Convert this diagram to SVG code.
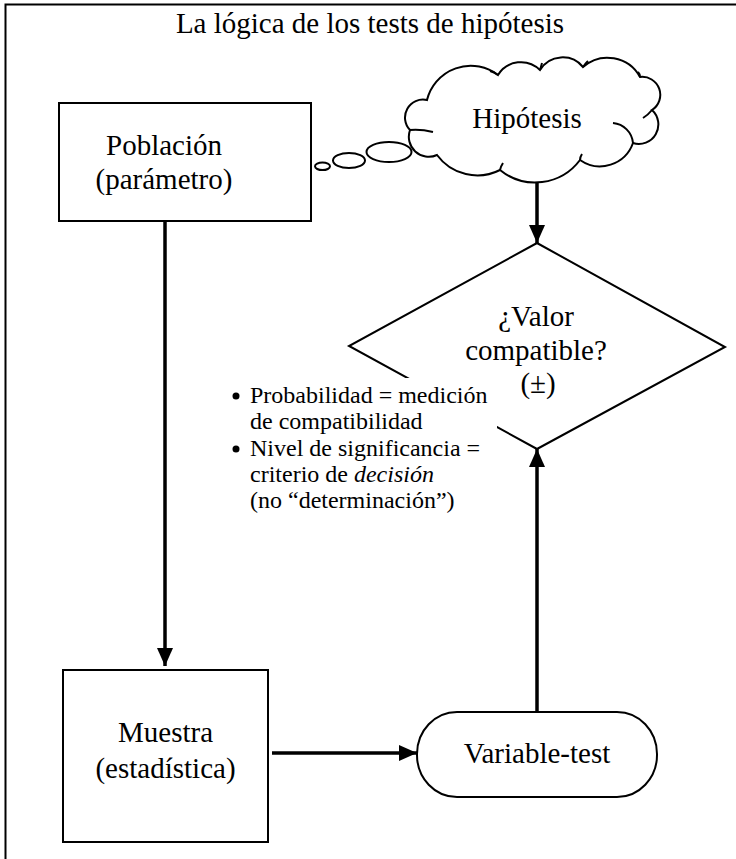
<svg xmlns="http://www.w3.org/2000/svg" width="736" height="859" viewBox="0 0 736 859">
<style>
  .t { font-family: "Liberation Serif", "Times New Roman", serif; font-size: 29px; fill: #000; text-anchor: middle; }
  .b { font-family: "Liberation Serif", "Times New Roman", serif; font-size: 24px; fill: #000; }
  .shape { fill: #fff; stroke: #000; stroke-width: 2; }
  .line { fill: none; stroke: #000; stroke-width: 2; }
  .conn { fill: none; stroke: #000; stroke-width: 3.5; }
  .dot { fill: #000; }
</style>
<defs>
  <marker id="ah" markerUnits="userSpaceOnUse" markerWidth="18" markerHeight="16" refX="18" refY="8" orient="auto">
    <path d="M0,0 L18,8 L0,16 Z" fill="#000"/>
  </marker>
</defs>
<rect x="0" y="0" width="736" height="859" fill="#fff"/>

<g id="frame">
  <path class="line" d="M5.5,859 L5.5,4.5 L736,4.5"/>
</g>

<g id="title">
  <text class="t" x="370" y="33">La lógica de los tests de hipótesis</text>
</g>

<g id="poblacion">
  <rect class="shape" x="59" y="103" width="252" height="118"/>
  <text class="t" x="164" y="155">Población</text>
  <text class="t" x="164" y="189">(parámetro)</text>
</g>

<g id="hipotesis">
  <ellipse class="shape" cx="322.5" cy="166.3" rx="7.5" ry="3.8"/>
  <ellipse class="shape" cx="349" cy="160.5" rx="16" ry="7.5"/>
  <ellipse class="shape" cx="389" cy="152" rx="22.5" ry="10"/>
  <path class="shape" d="M427,100 A45,45 0 0 1 498,75 A27,27 0 0 1 540,70 A26.5,26.5 0 0 1 583,67 A37,37 0 0 1 640,77 A18,18 0 0 1 652,110 A19.5,19.5 0 0 1 633,143 A35,35 0 0 1 580,160 A56,56 0 0 1 500,170 A50,50 0 0 1 437,155 A20,20 0 0 1 410,130 A18,18 0 0 1 427,100 Z"/>
  <path class="line" d="M613,123 A22,22 0 0 1 633,143"/>
  <path class="line" d="M652,110 Q648,115 643,118"/>
  <path class="line" d="M580,160 Q580,157 582,154"/>
  <path class="line" d="M500,170 Q501,166 503,163"/>
  <path class="line" d="M410,130 Q421,129 433,132"/>
  <path class="line" d="M498,75 Q494,72 490,71"/>
  <path class="line" d="M540,70 Q541,67 542,63"/>
  <path class="line" d="M583,67 Q585,64 588,61"/>
  <path class="line" d="M640,77 Q640,74 638,72"/>
  <text class="t" x="527" y="128">Hipótesis</text>
</g>

<g id="decision">
  <polygon class="shape" points="537,243 725,347 537,449 349,346"/>
  <text class="t" x="536" y="326">¿Valor</text>
  <text class="t" x="536" y="360">compatible?</text>
  <text class="t" x="538" y="393">(±)</text>
</g>

<g id="notas">
  <rect x="226" y="378" width="271" height="140" fill="#fff"/>
  <circle class="dot" cx="236" cy="396" r="3.5"/>
  <text class="b" x="250" y="403">Probabilidad = medición</text>
  <text class="b" x="250" y="429">de compatibilidad</text>
  <circle class="dot" cx="236" cy="449" r="3.5"/>
  <text class="b" x="250" y="456">Nivel de significancia =</text>
  <text class="b" x="250" y="482">criterio de <tspan font-style="italic">decisión</tspan></text>
  <text class="b" x="250" y="508">(no “determinación”)</text>
</g>

<g id="muestra">
  <rect class="shape" x="63" y="670" width="205" height="172"/>
  <text class="t" x="165.5" y="742">Muestra</text>
  <text class="t" x="165.5" y="778">(estadística)</text>
</g>

<g id="variable-test">
  <rect class="shape" x="417" y="712" width="240" height="85" rx="40" ry="42"/>
  <text class="t" x="537" y="763">Variable-test</text>
</g>

<g id="connectors">
  <line class="conn" x1="165" y1="221" x2="165" y2="666" marker-end="url(#ah)"/>
  <line class="conn" x1="537" y1="182" x2="537" y2="243" marker-end="url(#ah)"/>
  <line class="conn" x1="272" y1="753" x2="417" y2="753" marker-end="url(#ah)"/>
  <line class="conn" x1="537" y1="712" x2="537" y2="449" marker-end="url(#ah)"/>
</g>
</svg>
